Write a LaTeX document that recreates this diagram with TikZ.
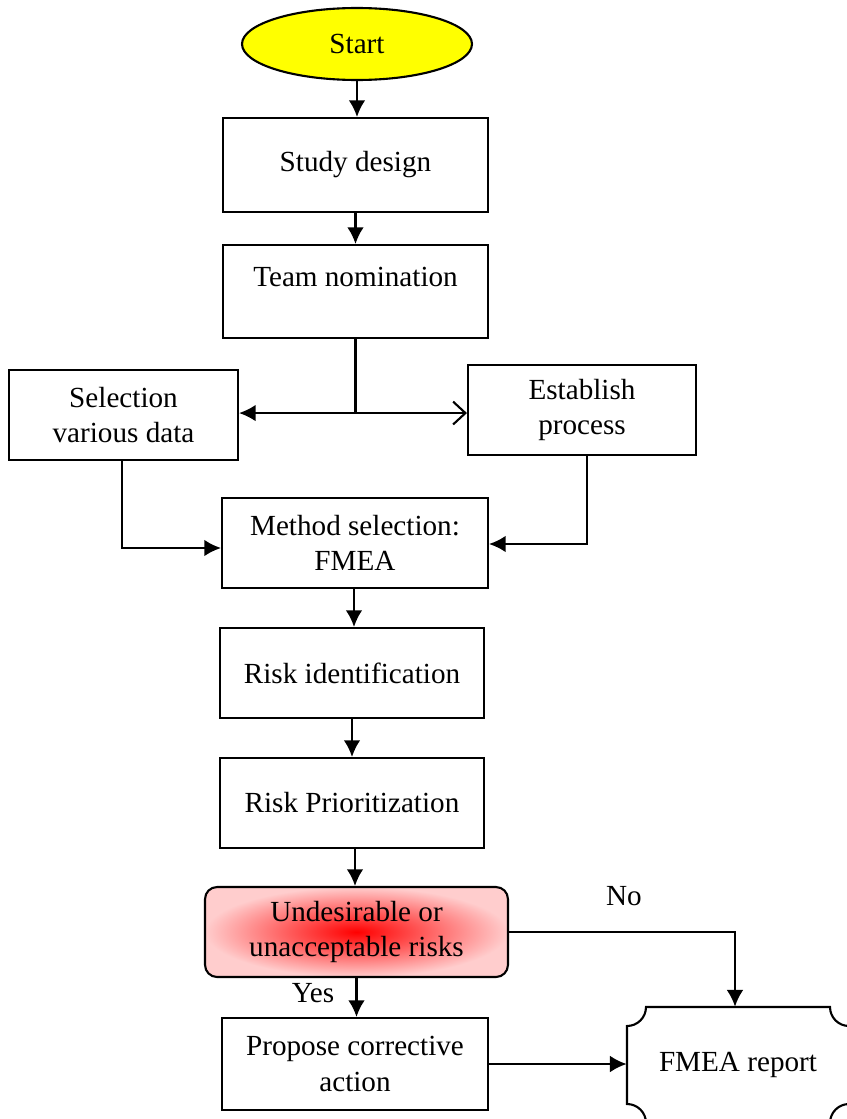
\documentclass[tikz,border=0pt]{standalone}
\usepackage{fontspec}
\setmainfont{Liberation Serif}
\usetikzlibrary{shapes.geometric,arrows.meta,calc}
\definecolor{startyellow}{RGB}{255,255,0}
\definecolor{pinkout}{RGB}{255,205,205}
\begin{document}
\begin{tikzpicture}[x=0.02cm,y=-0.02cm,
  font=\fontsize{16.6}{20}\selectfont,
  box/.style={draw, line width=1.2pt, align=center, inner sep=0pt},
  arr/.style={line width=1.2pt, -{Latex[length=9.5pt,width=9.5pt]}},
  openarr/.style={line width=1.2pt, -{Straight Barb[length=7pt,width=13pt,line width=1.2pt]}},
  plain/.style={line width=1.2pt}]
\useasboundingbox (0,0) rectangle (846,1119);

\node[ellipse, draw, line width=1.2pt, fill=startyellow, minimum width=4.6cm, minimum height=1.44cm, inner sep=0pt] (start) at (357,44) {Start};

\node[box, minimum width=5.3cm, minimum height=1.88cm] (sd) at (355.5,165) {Study design};
\node[box, minimum width=5.3cm, minimum height=1.86cm] (tn) at (355.5,291.5) {Team nomination\\[-3.5pt]\mbox{}};
\node[box, minimum width=4.58cm, minimum height=1.8cm] (sel) at (123.5,415) {Selection\\various data};
\node[box, minimum width=4.56cm, minimum height=1.8cm] (est) at (582,410) {Establish\\process};
\node[box, minimum width=5.32cm, minimum height=1.8cm] (ms) at (355,543) {Method selection:\\FMEA};
\node[box, minimum width=5.28cm, minimum height=1.8cm] (ri) at (352,673) {Risk identification};
\node[box, minimum width=5.28cm, minimum height=1.8cm] (rp) at (352,803) {Risk Prioritization};
\node[box, rounded corners=0.24cm, minimum width=6.06cm, minimum height=1.8cm, inner color=red, outer color=pinkout] (und) at (356.5,932) {Undesirable or\\unacceptable risks};
\node[box, minimum width=5.32cm, minimum height=1.84cm] (pca) at (355,1064) {Propose corrective\\action};

% FMEA report (shape with concave corners)
\node[inner sep=0pt, minimum width=4.44cm, minimum height=2.32cm] (rep) at (738,1065) {FMEA report};
\draw[plain] (646,1007) -- (830,1007)
  .. controls (830,1017.5) and (838.5,1026) .. (849,1026)
  -- (849,1104)
  .. controls (838.5,1104) and (830,1112.5) .. (830,1123)
  -- (646,1123)
  .. controls (646,1112.5) and (637.5,1104) .. (627,1104)
  -- (627,1026)
  .. controls (637.5,1026) and (646,1017.5) .. (646,1007) -- cycle;

% connectors
\coordinate (msout) at ($(ms.south)+(-1,0)$);
\coordinate (rpout) at ($(rp.south)+(3,0)$);
\coordinate (selout) at ($(sel.south)+(-1.5,0)$);
\coordinate (estout) at ($(est.south)+(5,0)$);
\coordinate (msin1) at ($(ms.west)+(0,5)$);
\coordinate (msin2) at ($(ms.east)+(0,1)$);
\coordinate (repin) at ($(rep.north)+(-3,0)$);

\draw[arr] (start.south) -- (start.south |- sd.north);
\draw[arr] (sd.south) -- (sd.south |- tn.north);
\draw[plain] (tn.south) -- ++(0,74) coordinate (j);
\draw[arr] (j) -- (j -| sel.east);
\draw[openarr] (j) -- (j -| est.west);
\draw[arr] (selout) |- (msin1);
\draw[arr] (estout) |- (msin2);
\draw[arr] (msout) -- (msout |- ri.north);
\draw[arr] (ri.south) -- (ri.south |- rp.north);
\draw[arr] (rpout) -- (rpout |- und.north);
\draw[arr] (und.south) -- (und.south |- pca.north);
\draw[arr] (und.east) -| (repin);
\draw[arr] (pca.east) -- (pca.east -| rep.west);

\node (no) at (624,896) {No};
\node (yes) at (313,993) {Yes};
\end{tikzpicture}
\end{document}
